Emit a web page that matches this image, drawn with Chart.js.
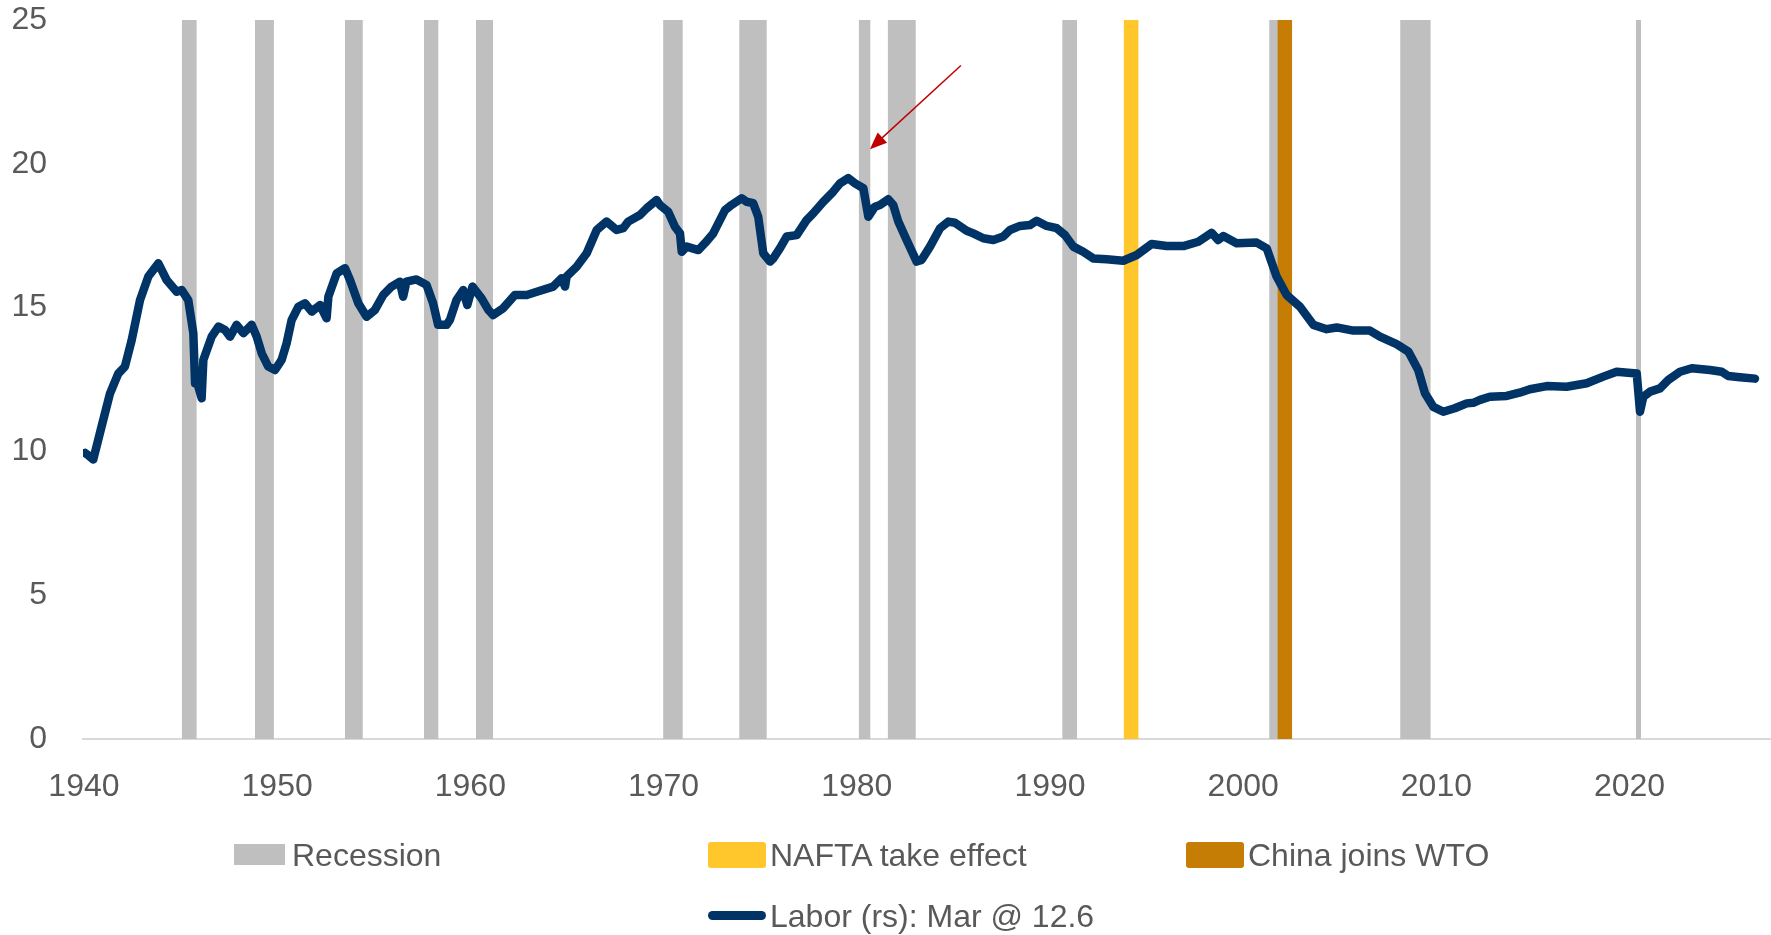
<!DOCTYPE html>
<html>
<head>
<meta charset="utf-8">
<script src="https://cdn.jsdelivr.net/npm/chart.js"></script>
<style>
  body { margin: 0; background: #fff; }
  #wrap { position: relative; width: 1771px; height: 935px; }
  #legend {
    position: absolute; left: 230px; top: 824px;
    display: grid; grid-template-columns: repeat(3, 478px); grid-auto-rows: 61px;
    font-family: "Liberation Sans", Arial, sans-serif; font-size: 32px; color: #595959;
  }
  .item { display: flex; align-items: center; }
  .cell { width: 58px; height: 26px; display: flex; align-items: center; justify-content: center; }
  .item span { margin-left: 4px; line-height: 1; white-space: nowrap; }
</style>
</head>
<body>
<div id="wrap">
  <canvas id="chart" width="1771" height="935"></canvas>
  <div id="legend"></div>
</div>
<script>
// 경기침체 구간 (시작, 끝 - 소수 연도)
const recessionStart = [1945.06, 1948.85, 1953.51, 1957.60, 1960.29, 1969.98, 1973.92, 1980.11, 1981.61, 1990.64, 2001.35, 2008.13, 2020.33];
const recessionEnd   = [1945.83, 1949.83, 1954.43, 1958.34, 1961.17, 1970.99, 1975.34, 1980.70, 1983.05, 1991.40, 2002.00, 2009.70, 2020.59];

// 이벤트 구간
const naftaStart = [1993.81];
const naftaEnd = [1994.59];
const wtoStart = [2001.77];
const wtoEnd = [2002.54];

// Labor 시계열
const labYears = [
  1940.05, 1940.25, 1940.48, 1940.91, 1941.35, 1941.78, 1942.12, 1942.47, 1942.90, 1943.33,
  1943.85, 1944.28, 1944.80, 1945.06, 1945.40, 1945.66, 1945.75, 1945.87, 1946.09, 1946.18,
  1946.61, 1946.96, 1947.30, 1947.56, 1947.90, 1948.25, 1948.68, 1948.94, 1949.20, 1949.54,
  1949.89, 1950.23, 1950.49, 1950.75, 1951.10, 1951.44, 1951.79, 1952.22, 1952.56, 1952.65,
  1953.08, 1953.51, 1953.77, 1954.20, 1954.63, 1955.06, 1955.49, 1955.92, 1956.35, 1956.52,
  1956.69, 1957.21, 1957.73, 1958.07, 1958.33, 1958.77, 1958.94, 1959.28, 1959.63, 1959.84,
  1960.11, 1960.58, 1960.93, 1961.18, 1961.70, 1962.31, 1962.92, 1963.44, 1964.29, 1964.72,
  1964.90, 1964.98, 1965.50, 1966.02, 1966.54, 1967.05, 1967.57, 1967.91, 1968.17, 1968.78,
  1969.12, 1969.64, 1969.81, 1970.24, 1970.59, 1970.85, 1970.94, 1971.20, 1971.80, 1972.14,
  1972.57, 1973.18, 1973.52, 1974.04, 1974.30, 1974.64, 1974.90, 1975.16, 1975.51, 1975.68,
  1976.02, 1976.37, 1976.89, 1977.41, 1977.75, 1978.27, 1978.78, 1979.13, 1979.56, 1979.91,
  1980.34, 1980.60, 1980.94, 1981.20, 1981.63, 1981.89, 1982.15, 1982.58, 1983.10, 1983.36,
  1983.79, 1984.31, 1984.74, 1985.08, 1985.69, 1986.03, 1986.55, 1987.07, 1987.58, 1987.93,
  1988.45, 1988.96, 1989.31, 1989.83, 1990.35, 1990.78, 1991.21, 1991.72, 1992.24, 1992.93,
  1993.79, 1994.49, 1995.26, 1996.04, 1996.90, 1997.68, 1998.37, 1998.71, 1998.97, 1999.66,
  2000.70, 2001.22, 2001.73, 2002.25, 2002.94, 2003.63, 2004.32, 2004.84, 2005.70, 2006.56,
  2007.08, 2007.94, 2008.55, 2009.06, 2009.41, 2009.84, 2010.36, 2010.95, 2011.57, 2011.91,
  2012.26, 2012.77, 2013.64, 2014.30, 2014.84, 2015.71, 2016.74, 2017.78, 2018.64, 2019.33,
  2020.37, 2020.54, 2020.71, 2021.06, 2021.57, 2022.00, 2022.61, 2023.22, 2024.16, 2024.77,
  2025.11, 2025.71, 2026.49
];
const labValues = [
  9.95, 9.85, 9.72, 10.86, 12.02, 12.71, 12.95, 13.87, 15.26, 16.08,
  16.54, 15.96, 15.55, 15.61, 15.26, 14.11, 12.37, 12.37, 11.85, 13.18,
  13.99, 14.34, 14.22, 13.99, 14.40, 14.11, 14.40, 13.99, 13.41, 12.95,
  12.83, 13.18, 13.76, 14.57, 15.03, 15.15, 14.86, 15.09, 14.63, 15.38,
  16.19, 16.37, 15.96, 15.15, 14.68, 14.92, 15.44, 15.73, 15.90, 15.38,
  15.90, 15.98, 15.79, 15.15, 14.40, 14.40, 14.57, 15.26, 15.61, 15.09,
  15.73, 15.32, 14.92, 14.74, 14.98, 15.44, 15.44, 15.55, 15.73, 16.02,
  15.73, 16.08, 16.42, 16.89, 17.70, 17.99, 17.70, 17.76, 17.99, 18.22,
  18.45, 18.74, 18.57, 18.33, 17.81, 17.58, 16.94, 17.12, 17.00, 17.24,
  17.58, 18.39, 18.57, 18.80, 18.68, 18.63, 18.16, 16.89, 16.60, 16.71,
  17.06, 17.47, 17.52, 18.05, 18.28, 18.68, 19.03, 19.32, 19.50, 19.32,
  19.15, 18.16, 18.51, 18.57, 18.77, 18.57, 17.99, 17.35, 16.60, 16.66,
  17.12, 17.76, 17.99, 17.95, 17.67, 17.58, 17.41, 17.35, 17.47, 17.70,
  17.84, 17.87, 18.02, 17.84, 17.76, 17.52, 17.12, 16.94, 16.71, 16.68,
  16.63, 16.83, 17.21, 17.14, 17.14, 17.29, 17.60, 17.35, 17.49, 17.24,
  17.26, 17.06, 16.08, 15.44, 15.03, 14.40, 14.25, 14.31, 14.20, 14.20,
  13.99, 13.73, 13.47, 12.83, 12.02, 11.55, 11.38, 11.50, 11.67, 11.69,
  11.79, 11.90, 11.93, 12.04, 12.16, 12.27, 12.25, 12.37, 12.60, 12.77,
  12.71, 11.38, 11.90, 12.08, 12.19, 12.48, 12.77, 12.89, 12.83, 12.77,
  12.62, 12.58, 12.53
];

const xTicks = [1940, 1950, 1960, 1970, 1980, 1990, 2000, 2010, 2020];
const barTop = 25;

// 주석 화살표 (데이터 좌표)
const arrowFrom = [1985.39, 23.42];
const arrowTo = [1980.68, 20.51];

const textColor = '#595959';
const fontFamily = '"Liberation Sans", Arial, sans-serif';

// 구간 -> 계단형 채움 포인트
function spanPoints(starts, ends) {
  const pts = [];
  starts.forEach((s, i) => {
    pts.push({ x: s, y: barTop });
    pts.push({ x: ends[i], y: 0 });
  });
  return pts;
}

function spanDataset(label, color, starts, ends, order, swatch) {
  return {
    label: label,
    data: spanPoints(starts, ends),
    stepped: 'before',
    fill: 'origin',
    backgroundColor: color,
    borderColor: color,
    borderWidth: 0,
    pointRadius: 0,
    order: order,
    swatch: swatch,
  };
}

const arrowPlugin = {
  id: 'arrow',
  afterDatasetsDraw(chart) {
    const { ctx, scales: { x, y } } = chart;
    const x1 = x.getPixelForValue(arrowFrom[0]), y1 = y.getPixelForValue(arrowFrom[1]);
    const x2 = x.getPixelForValue(arrowTo[0]), y2 = y.getPixelForValue(arrowTo[1]);
    const ang = Math.atan2(y2 - y1, x2 - x1);
    const head = 17, half = 7;
    ctx.save();
    ctx.strokeStyle = '#c00000';
    ctx.fillStyle = '#c00000';
    ctx.lineWidth = 1.5;
    ctx.beginPath();
    ctx.moveTo(x1, y1);
    ctx.lineTo(x2 - Math.cos(ang) * head * 0.8, y2 - Math.sin(ang) * head * 0.8);
    ctx.stroke();
    ctx.beginPath();
    ctx.moveTo(x2, y2);
    ctx.lineTo(x2 - Math.cos(ang) * head + Math.sin(ang) * half, y2 - Math.sin(ang) * head - Math.cos(ang) * half);
    ctx.lineTo(x2 - Math.cos(ang) * head - Math.sin(ang) * half, y2 - Math.sin(ang) * head + Math.cos(ang) * half);
    ctx.closePath();
    ctx.fill();
    ctx.restore();
  }
};

const chart = new Chart(document.getElementById('chart').getContext('2d'), {
  type: 'line',
  data: {
    datasets: [
      spanDataset('Recession', '#bfbfbf', recessionStart, recessionEnd, 3, { w: 51, h: 21, r: 0 }),
      spanDataset('NAFTA take effect', '#ffc72c', naftaStart, naftaEnd, 2, { w: 58, h: 26, r: 3 }),
      spanDataset('China joins WTO', '#c57d05', wtoStart, wtoEnd, 1, { w: 58, h: 26, r: 3 }),
      {
        label: 'Labor (rs): Mar @ 12.6',
        data: labYears.map((yr, i) => ({ x: yr, y: labValues[i] })),
        borderColor: '#003366',
        borderWidth: 8.5,
        borderCapStyle: 'round',
        borderJoinStyle: 'round',
        pointRadius: 0,
        tension: 0,
        fill: false,
        order: 0,
        swatch: { w: 58, h: 9, r: 4.5 },
      },
    ],
  },
  options: {
    responsive: false,
    animation: false,
    layout: { padding: { top: 20, left: 0, right: 0, bottom: 0 } },
    plugins: {
      legend: { display: false },
      tooltip: { enabled: false },
    },
    scales: {
      x: {
        type: 'linear',
        min: 1939.95,
        max: 2027.32,
        afterBuildTicks: (scale) => { scale.ticks = xTicks.map(v => ({ value: v })); },
        afterFit: (scale) => { scale.height = 196; },
        grid: { display: false, drawTicks: false },
        border: { display: true, color: '#d9d9d9', width: 2 },
        ticks: {
          padding: 29,
          maxRotation: 0,
          autoSkip: false,
          color: textColor,
          font: { family: fontFamily, size: 32 },
          callback: (v) => String(v),
        },
      },
      y: {
        min: 0,
        max: 25,
        afterFit: (scale) => {
          scale.width = 83;
          scale.paddingTop = 0;
          scale.paddingBottom = 0;
        },
        grid: { display: false, drawTicks: false },
        border: { display: false },
        ticks: {
          stepSize: 5,
          padding: 36,
          color: textColor,
          font: { family: fontFamily, size: 32 },
        },
      },
    },
  },
  plugins: [arrowPlugin],
});

// HTML 범례 생성
const legendEl = document.getElementById('legend');
chart.data.datasets.forEach((ds, i) => {
  const item = document.createElement('div');
  item.className = 'item';
  if (i === 3) item.style.gridColumn = '2';
  const cell = document.createElement('div');
  cell.className = 'cell';
  const sw = document.createElement('div');
  sw.style.width = ds.swatch.w + 'px';
  sw.style.height = ds.swatch.h + 'px';
  sw.style.borderRadius = ds.swatch.r + 'px';
  sw.style.background = ds.borderColor;
  cell.appendChild(sw);
  const txt = document.createElement('span');
  txt.textContent = ds.label;
  item.appendChild(cell);
  item.appendChild(txt);
  legendEl.appendChild(item);
});
</script>
</body>
</html>
